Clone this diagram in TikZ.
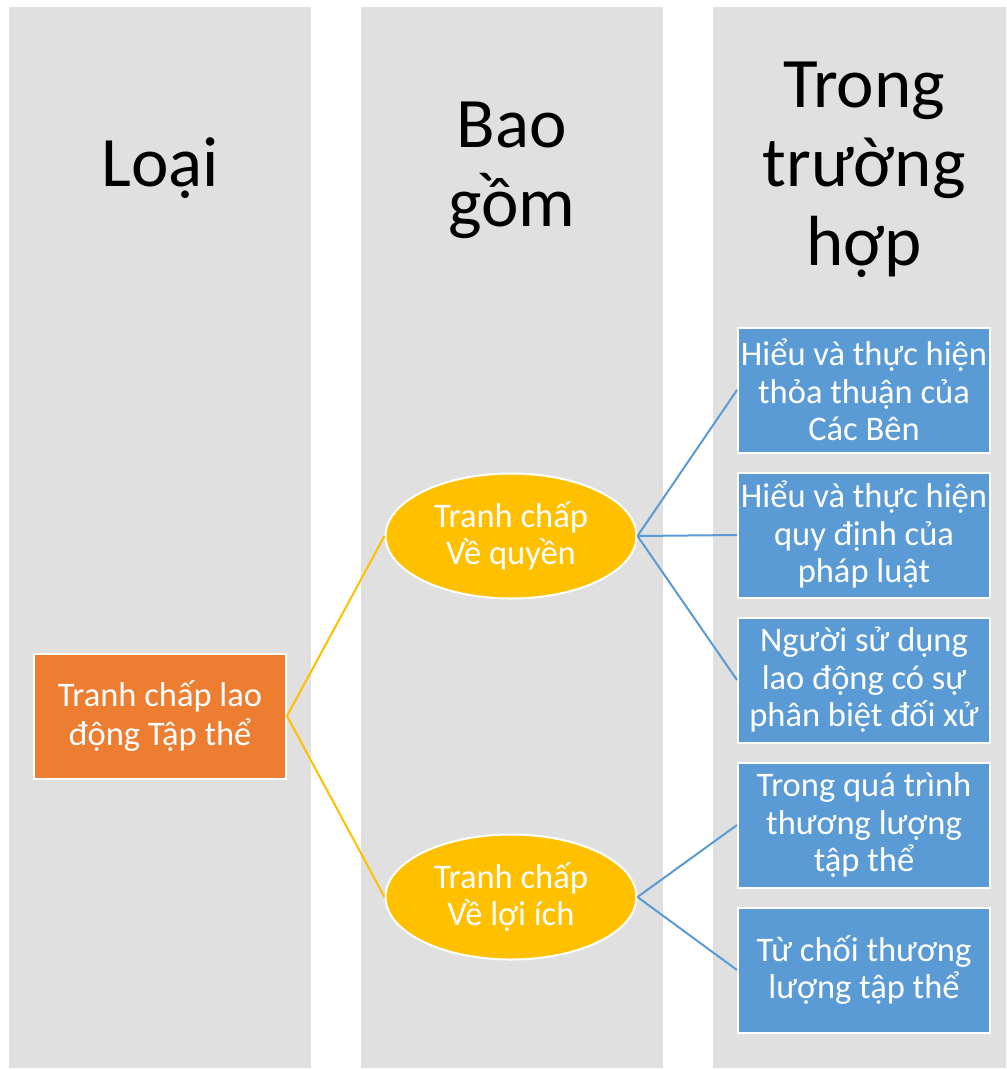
\documentclass[tikz,border=0pt]{standalone}
\usepackage{fontspec}
\setmainfont{Carlito}
\usetikzlibrary{shapes.geometric}
\definecolor{colbg}{HTML}{E0E0E0}
\definecolor{orangefill}{HTML}{ED7D31}
\definecolor{goldfill}{HTML}{FFC000}
\definecolor{bluefill}{HTML}{5B9BD5}
\tikzset{
  column/.style={fill=colbg, draw=none, minimum width=302pt, minimum height=1061pt, inner sep=0pt, anchor=north west},
  header/.style={font=\fontsize{71}{79}\selectfont, align=center, text=black},
  rootbox/.style={rectangle, fill=orangefill, draw=white, line width=2pt, minimum width=252pt, minimum height=125pt, inner sep=0pt, text=white, align=center, font=\fontsize{34.5}{39}\selectfont},
  midoval/.style={ellipse, fill=goldfill, draw=white, line width=2pt, minimum width=251pt, minimum height=125pt, inner sep=0pt, text=white, align=center, font=\fontsize{34.5}{37}\selectfont},
  leafbox/.style={rectangle, fill=bluefill, draw=white, line width=2pt, minimum width=252pt, minimum height=125pt, inner sep=0pt, text=white, align=center, font=\fontsize{34.5}{37.5}\selectfont},
  goldlink/.style={draw=goldfill, line width=2pt},
  bluelink/.style={draw=bluefill, line width=2pt}
}
\begin{document}
\begin{tikzpicture}[x=1pt,y=-1pt]
\useasboundingbox (0,0) rectangle (1006,1070);
\fill[white] (0,0) rectangle (1006,1070);
% background columns
\node[column] (c1) at (9,7) {};
\node[column] (c2) at (361,7) {};
\begin{scope}
\clip (0,0) rectangle (1006,1070);
\node[column] (c3) at (713,7) {};
\end{scope}
% column titles
\node[header] (h1) at (160,168) {Loại};
\node[header] (h2) at (512,170) {Bao\\gồm};
\node[header] (h3) at (864,170) {Trong\\trường\\hợp};
% tree nodes
\node[rootbox] (root) at (160,716) {Tranh chấp lao\\động Tập thể};
\node[midoval] (quyen) at (511,536) {Tranh chấp\\Về quyền};
\node[midoval] (loiich) at (511,897) {Tranh chấp\\Về lợi ích};
\node[leafbox] (l1) at (864,390) {Hiểu và thực hiện\\thỏa thuận của\\Các Bên};
\node[leafbox] (l2) at (864,535) {Hiểu và thực hiện\\quy định của\\pháp luật};
\node[leafbox] (l3) at (864,680) {Người sử dụng\\lao động có sự\\phân biệt đối xử};
\node[leafbox] (l4) at (864,825) {Trong quá trình\\thương lượng\\tập thể};
\node[leafbox] (l5) at (864,970) {Từ chối thương\\lượng tập thể};
% connectors
\draw[goldlink] (root.east) -- (quyen.west);
\draw[goldlink] (root.east) -- (loiich.west);
\draw[bluelink] (quyen.east) -- (l1.west);
\draw[bluelink] (quyen.east) -- (l2.west);
\draw[bluelink] (quyen.east) -- (l3.west);
\draw[bluelink] (loiich.east) -- (l4.west);
\draw[bluelink] (loiich.east) -- (l5.west);
\end{tikzpicture}
\end{document}
